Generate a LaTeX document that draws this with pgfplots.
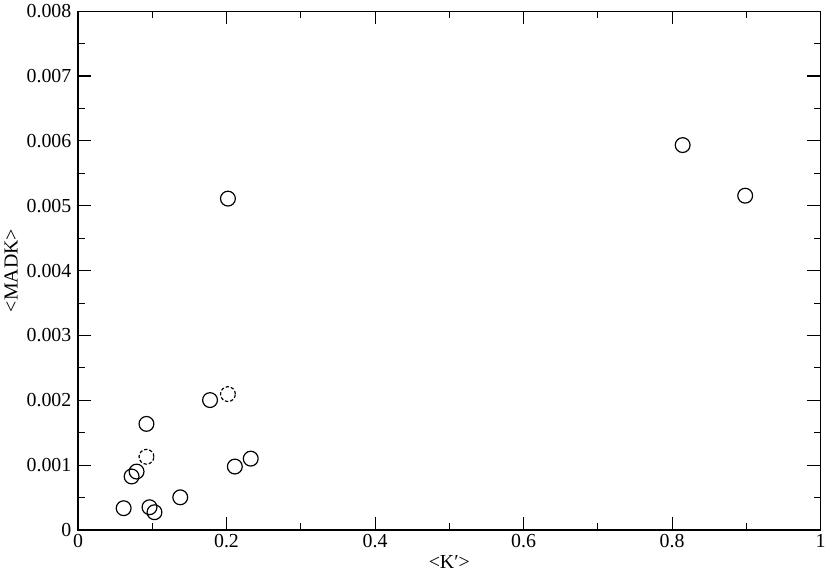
\documentclass[border=0pt]{standalone}
\usepackage{fontspec}
\setmainfont{Liberation Serif}
\usepackage{pgfplots}
\pgfplotsset{compat=1.18}
\begin{document}
\begin{tikzpicture}
\begin{axis}[
  scale only axis,
  width=561pt, height=392pt,
  xmin=0, xmax=1, ymin=0, ymax=0.008,
  xtick={0,0.2,0.4,0.6,0.8,1},
  xticklabels={0,0.2,0.4,0.6,0.8,1},
  minor xtick={0.1,0.3,0.5,0.7,0.9},
  ytick={0,0.001,0.002,0.003,0.004,0.005,0.006,0.007,0.008},
  yticklabels={0,0.001,0.002,0.003,0.004,0.005,0.006,0.007,0.008},
  minor ytick={0.0005,0.0015,0.0025,0.0035,0.0045,0.0055,0.0065,0.0075},
  tick align=inside,
  major tick length=10pt,
  minor tick length=5pt,
  tick style={black, line width=0.8pt},
  axis line style={line width=0.9pt},
  scaled y ticks=false,
  /pgf/number format/assume math mode=true,
  tick label style={font=\fontsize{15}{17}\selectfont},
  yticklabel style={xshift=-1.5pt},
  label style={font=\fontsize{15}{17}\selectfont},
  xlabel={<K′>},
  ylabel={<MADK>},
  xlabel style={yshift=1pt},
  ylabel style={yshift=0pt},
]
\addplot[only marks, mark=o, mark size=5.6pt, line width=0.9pt] coordinates {
(0.0615,0.000337) (0.0963,0.000352) (0.103,0.000275) (0.1377,0.000505)
(0.0722,0.000826) (0.0789,0.000902) (0.0922,0.001637) (0.1778,0.002004)
(0.2019,0.00511) (0.2112,0.000979) (0.2326,0.001101)
(0.8142,0.005935) (0.8984,0.005155)
};
\addplot[only marks, mark=o, mark size=5.6pt, line width=0.9pt, mark options={dashed, dash pattern=on 2.5pt off 1.5pt}] coordinates {
(0.0922,0.00113) (0.2019,0.002096)
};
\end{axis}
\end{tikzpicture}
\end{document}
